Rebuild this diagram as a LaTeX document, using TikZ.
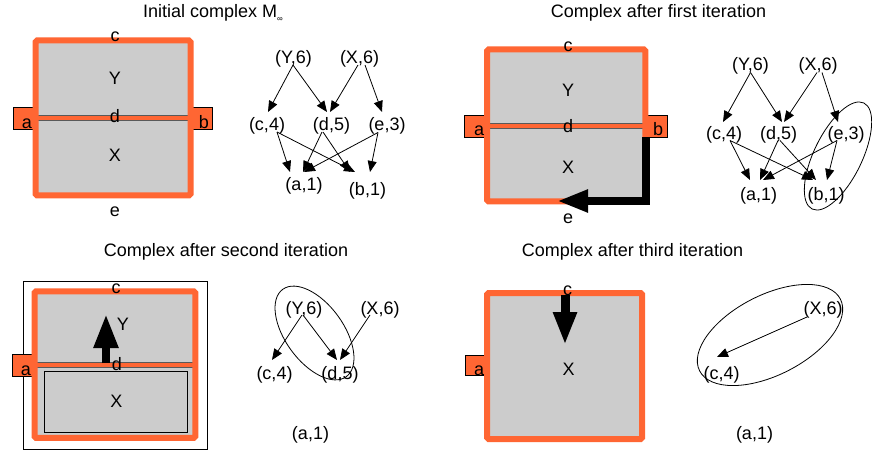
\documentclass[tikz,border=0pt]{standalone}
\usepackage{fontspec}
\setmainfont{Liberation Sans}
\usetikzlibrary{arrows.meta,shapes.geometric,calc}
\definecolor{cellorange}{HTML}{FF6633}
\definecolor{cellgray}{HTML}{CCCCCC}
\begin{document}
\begin{tikzpicture}[x=1pt,y=-1pt,
  font=\fontsize{18}{21}\selectfont,
  lbl/.style={inner sep=0pt},
  vtx/.style={inner sep=0pt},
  title/.style={inner sep=0pt, anchor=base},
  edge/.style={line width=0.8pt, -{Triangle[length=11pt,width=9pt]}},
  tab/.style={fill=cellorange, draw=black, line width=0.9pt},
  cell/.style={fill=cellgray},
  rim/.style={draw=cellorange, line width=6pt, rounded corners=1.5pt},
  seam/.style={fill=cellorange, draw=black!65, line width=0.8pt},
  loop/.style={draw, ellipse, line width=0.8pt, inner sep=0pt},
  flow/.style={line width=8pt},
]
\useasboundingbox (0,0) rectangle (872,454);

% ---------- titles ----------
\node[title, anchor=base west] (t1) at (143,18) {Initial complex M\raisebox{-0.2em}{\fontsize{8}{8}\selectfont ∞}};
\node[title] (t2) at (658.5,18) {Complex after first iteration};
\node[title] (t3) at (226,256) {Complex after second iteration};
\node[title] (t4) at (632.5,256) {Complex after third iteration};

% ---------- complex M_infinity ----------
\draw[tab] (13,107) rectangle (36,129);
\draw[tab] (190,107) rectangle (212,129);
\fill[cell] (35.5,40.5) rectangle (190.5,195.5);
\draw[seam] (35.5,115) rectangle (190.5,120.5);
\draw[rim] (35.5,40.5) rectangle (190.5,195.5);
\node[lbl] (pAc) at (115,37) {c};
\node[lbl] (pAY) at (115,78.5) {Y};
\node[lbl] (pAd) at (115,116) {d};
\node[lbl] (pAX) at (115,155.5) {X};
\node[lbl] (pAe) at (115,212) {e};
\node[lbl] (pAa) at (27,123.5) {a};
\node[lbl] (pAb) at (204,122) {b};

% ---------- complex after first iteration ----------
\draw[tab] (464.3,115) rectangle (488,137);
\draw[tab] (645,115) rectangle (667.7,137);
\fill[cell] (487.2,49.5) rectangle (645.3,201.5);
\draw[seam] (487.2,123.3) rectangle (645.3,128.3);
\draw[rim] (487.2,49.5) rectangle (645.3,201.5);
\draw[flow, -{Triangle[length=31pt,width=21pt]}] (646,137) -- (646,201) -- (557,201);
\node[lbl] (pBc) at (568,46.5) {c};
\node[lbl] (pBY) at (568,90) {Y};
\node[lbl] (pBd) at (568,126) {d};
\node[lbl] (pBX) at (568,167.5) {X};
\node[lbl] (pBe) at (568,218.5) {e};
\node[lbl] (pBa) at (479,131) {a};
\node[lbl] (pBb) at (658,129.5) {b};

% ---------- complex after second iteration ----------
\draw[line width=0.9pt] (23,281) rectangle (207,449);
\draw[tab] (12,354) rectangle (36,376);
\fill[cell] (34.5,291.3) rectangle (195.3,437.8);
\draw[seam] (34.5,362) rectangle (195.3,367);
\draw[line width=0.9pt, fill=cellgray] (44.3,371.7) rectangle (187.7,432.3);
\draw[rim] (34.5,291.3) rectangle (195.3,437.8);
\draw[flow, -{Triangle[length=34pt,width=23pt]}] (106,363) -- (106,314);
\node[lbl] (pCc) at (116,289) {c};
\node[lbl] (pCY) at (123,324) {Y};
\node[lbl] (pCd) at (117,364) {d};
\node[lbl] (pCX) at (116.5,401.5) {X};
\node[lbl] (pCa) at (26,370.5) {a};

% ---------- complex after third iteration ----------
\draw[tab] (465,355.7) rectangle (488,375.7);
\fill[cell] (487,293) rectangle (642,439);
\draw[rim] (487,293) rectangle (642,439);
\draw[line width=9pt, -{Triangle[length=33pt,width=22pt]}] (565,295) -- (565,345);
\node[lbl] (pDc) at (567.5,290.5) {c};
\node[lbl] (pDX) at (568.5,369) {X};
\node[lbl] (pDa) at (479,371) {a};

% ---------- graph of M_infinity ----------
\node[vtx] (gAY) at (293.5,59) {(Y,6)};
\node[vtx] (gAX) at (359.5,59) {(X,6)};
\node[vtx] (gAc) at (267,125.5) {(c,4)};
\node[vtx] (gAd) at (331.5,125.5) {(d,5)};
\node[vtx] (gAe) at (387,125.5) {(e,3)};
\node[vtx] (gAa) at (304,185.5) {(a,1)};
\node[vtx] (gAb) at (367.5,190.5) {(b,1)};
\draw[edge] ($(gAY)+(-0.5,6)$) -- ($(gAc)+(1,-13.5)$);
\draw[edge] ($(gAY)+(-0.5,6)$) -- ($(gAd)+(-4.5,-13.5)$);
\draw[edge] ($(gAX)+(-1.5,6)$) -- ($(gAd)+(-1.5,-13.5)$);
\draw[edge] ($(gAX)+(5.5,6)$) -- ($(gAe)+(-5,-13.5)$);
\draw[edge] ($(gAc)+(10,6.5)$) -- ($(gAa)+(-14,-13.5)$);
\draw[edge] ($(gAc)+(10,6.5)$) -- ($(gAb)+(-12.5,-18.5)$);
\draw[edge] ($(gAd)+(-9.5,6.5)$) -- ($(gAa)+(-1,-13.5)$);
\draw[edge] ($(gAd)+(-8.5,6.5)$) -- ($(gAb)+(-17.5,-18.5)$);
\draw[edge] ($(gAe)+(-9,7)$) -- ($(gAa)+(0,-13.5)$);
\draw[edge] ($(gAe)+(-9,7)$) -- ($(gAb)+(2.5,-18.5)$);

% ---------- graph after first iteration ----------
\node[vtx] (gBY) at (750.5,65.5) {(Y,6)};
\node[vtx] (gBX) at (818,65.5) {(X,6)};
\node[vtx] (gBc) at (724,134.5) {(c,4)};
\node[vtx] (gBd) at (778.5,134.5) {(d,5)};
\node[vtx] (gBe) at (846,134.5) {(e,3)};
\node[vtx] (gBa) at (758.5,195.5) {(a,1)};
\node[vtx] (gBb) at (826,195.5) {(b,1)};
\draw[edge] ($(gBY)+(0,7)$) -- ($(gBc)+(-1,-12.5)$);
\draw[edge] ($(gBY)+(0,7)$) -- ($(gBd)+(3.5,-12.5)$);
\draw[edge] ($(gBX)+(-1,7)$) -- ($(gBd)+(5.5,-12.5)$);
\draw[edge] ($(gBX)+(4,7)$) -- ($(gBe)+(-8,-12.5)$);
\draw[edge] ($(gBc)+(6,6)$) -- ($(gBa)+(-8.5,-15.5)$);
\draw[edge] ($(gBc)+(6,6)$) -- ($(gBb)+(-13,-15.5)$);
\draw[edge] ($(gBd)+(-0.5,6)$) -- ($(gBa)+(1.5,-15.5)$);
\draw[edge] ($(gBd)+(1.5,6)$) -- ($(gBb)+(-10,-15.5)$);
\draw[edge] ($(gBe)+(-9,6)$) -- ($(gBa)+(4.5,-15.5)$);
\draw[edge] ($(gBe)+(-9,6)$) -- ($(gBb)+(1,-15.5)$);
\node[loop, minimum width=118pt, minimum height=48pt, rotate=64] (gBloop) at (838,156) {};

% ---------- graph after second iteration ----------
\node[vtx] (gCY) at (304,309.5) {(Y,6)};
\node[vtx] (gCX) at (380,309.5) {(X,6)};
\node[vtx] (gCc) at (274.5,374.5) {(c,4)};
\node[vtx] (gCd) at (340,374.5) {(d,5)};
\node[vtx] (gCa) at (310.5,434.5) {(a,1)};
\draw[edge] ($(gCY)+(-2,5.5)$) -- ($(gCc)+(-2.5,-14.5)$);
\draw[edge] ($(gCY)+(-1,5.5)$) -- ($(gCd)+(-3,-14.5)$);
\draw[edge] ($(gCX)+(-10,5.5)$) -- ($(gCd)+(0,-14.5)$);
\node[loop, minimum width=108pt, minimum height=58pt, rotate=-54] (gCloop) at (314.5,333) {};

% ---------- graph after third iteration ----------
\node[vtx] (gDX) at (823,309.5) {(X,6)};
\node[vtx] (gDc) at (721.5,374.5) {(c,4)};
\node[vtx] (gDa) at (754.5,434.5) {(a,1)};
\draw[edge] ($(gDX)+(-16,7.5)$) -- ($(gDc)+(-4.5,-17.5)$);
\node[loop, minimum width=158pt, minimum height=80pt, rotate=27] (gDloop) at (770,335) {};
\end{tikzpicture}
\end{document}
